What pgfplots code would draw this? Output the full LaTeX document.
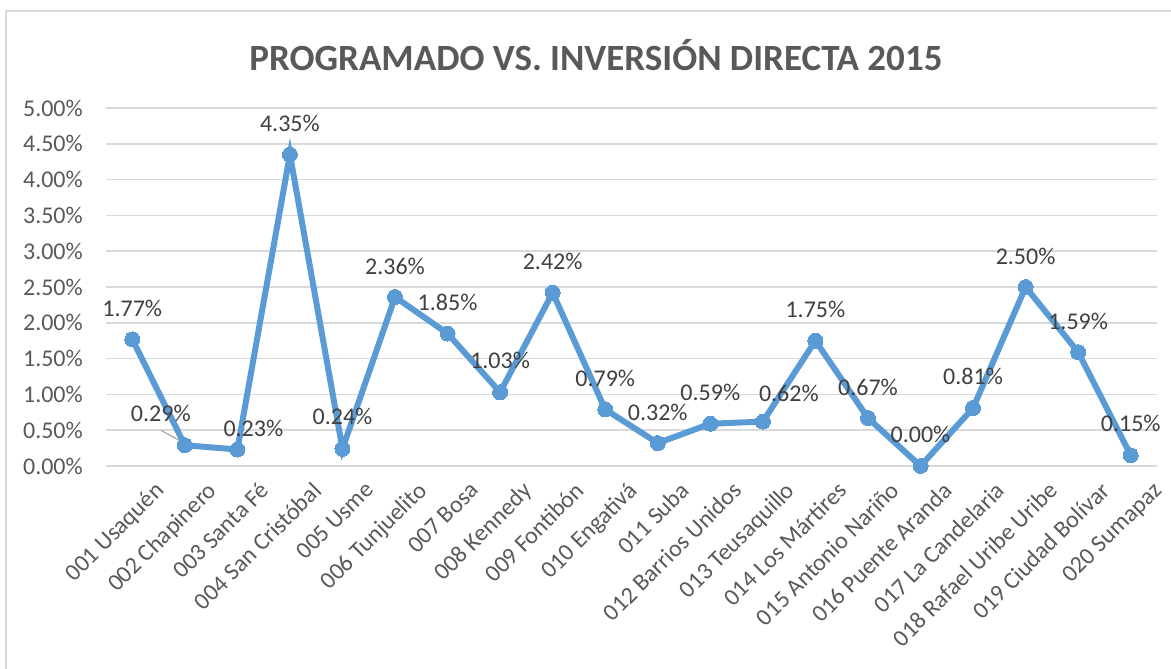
\documentclass[border=0pt]{standalone}
\usepackage{pgfplots}
\usepackage{pgfplotstable}
\pgfplotsset{compat=1.18}
\usepackage{fontspec}
\setmainfont{Carlito}
\definecolor{lineblue}{HTML}{5B9BD5}
\definecolor{gridgrey}{HTML}{D9D9D9}
\definecolor{txtgrey}{HTML}{595959}
\definecolor{lblgrey}{HTML}{404040}
\definecolor{leadgrey}{HTML}{A6A6A6}

\pgfplotstableread{
x y dx dy
0 1.77 0 31
1 0.29 -24 32
2 0.23 16 21
3 4.35 0 31
4 0.24 0 32
5 2.36 0 31
6 1.85 0 31
7 1.03 0 32
8 2.42 0 31
9 0.79 0 31
10 0.32 0 31
11 0.59 0 31
12 0.62 26 28
13 1.75 0 31
14 0.67 0 31
15 0.00 0 32
16 0.81 0 32
17 2.50 0 31
18 1.59 0 31
19 0.15 0 32
}\datatable

\begin{document}
\begin{tikzpicture}
\useasboundingbox (0pt,0pt) rectangle (1171pt,669pt);
\draw[color=gridgrey, line width=1.5pt] (6pt,0pt) -- (6pt,658pt) -- (1171pt,658pt);
\node[font=\fontsize{37}{44}\selectfont\bfseries, text=txtgrey] at (596pt,614pt) {PROGRAMADO VS. INVERSIÓN DIRECTA 2015};
\begin{axis}[
  at={(106pt,203pt)}, anchor=south west,
  scale only axis, width=1051pt, height=358pt,
  xmin=-0.5, xmax=19.5, ymin=0, ymax=5,
  clip=false,
  /pgf/number format/assume math mode=true,
  axis line style={draw=none},
  major tick length=0pt,
  ymajorgrids,
  grid style={color=gridgrey, line width=1.5pt},
  ytick={0,0.5,1,1.5,2,2.5,3,3.5,4,4.5,5},
  yticklabel={\pgfmathprintnumber[fixed,fixed zerofill,precision=2]{\tick}\%},
  yticklabel style={font=\fontsize{24}{28}\selectfont, text=txtgrey, anchor=east, inner sep=0pt, xshift=-23pt},
  xtick={0,...,19},
  xticklabels={001 Usaquén,002 Chapinero,003 Santa Fé,004 San Cristóbal,005 Usme,006 Tunjuelito,007 Bosa,008 Kennedy,009 Fontibón,010 Engativá,011 Suba,012 Barrios Unidos,013 Teusaquillo,014 Los Mártires,015 Antonio Nariño,016 Puente Aranda,017 La Candelaria,018 Rafael Uribe Uribe,019 Ciudad Bolívar,020 Sumapaz},
  xticklabel style={font=\fontsize{24}{28}\selectfont, text=txtgrey, rotate=45, anchor=north east, inner sep=0pt, xshift=5pt, yshift=-25pt},
]
\addplot[color=lineblue, line width=6pt, mark=*, mark size=7.5pt,
  mark options={fill=lineblue, draw=lineblue, line width=0pt},
  point meta=y,
  visualization depends on={\thisrow{dx}\as\dx},
  visualization depends on={\thisrow{dy}\as\dy},
  nodes near coords={\pgfmathprintnumber[fixed,fixed zerofill,precision=2]{\pgfplotspointmeta}\%},
  nodes near coords style={font=\fontsize{24}{28}\selectfont, text=lblgrey, anchor=center, inner sep=0pt, xshift=\dx, yshift=\dy},
] table[x=x,y=y] {\datatable};
\draw[leadgrey, line width=1.2pt] (axis cs:1,0.29) ++(-24pt,15pt) -- ++(22pt,-12pt);
\end{axis}
\end{tikzpicture}
\end{document}
